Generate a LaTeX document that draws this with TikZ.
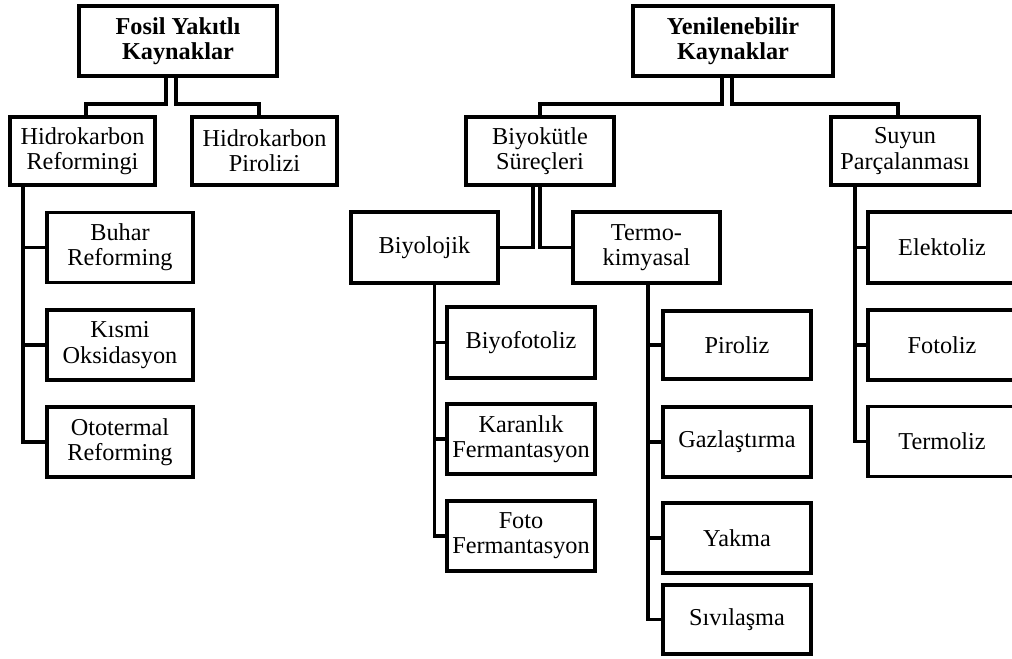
\documentclass[tikz,border=0pt]{standalone}
\usepackage{fontspec}
\setmainfont{Liberation Serif}
\begin{document}
\begin{tikzpicture}[x=0.75pt,y=-0.75pt,
  box/.style={draw=black,line width=2.8pt,fill=white,inner sep=0pt,align=center,
    font=\fontsize{18.2}{19}\selectfont,minimum width=#1*0.75pt},
  box/.default=148,
  hbox/.style={box=#1,minimum height=52.5pt},
  hbox/.default=148,
  tbox/.style={hbox=#1,font=\fontsize{18.2}{19}\selectfont\bfseries},
  conn/.style={line width=2.8pt,line join=miter}]
\clip (0,0) rectangle (1012,659);
% top level
\node[tbox=198] (fosil) at (178,41) {Fosil Yakıtlı\\Kaynaklar};
\node[tbox=200] (yen) at (733,41) {Yenilenebilir\\Kaynaklar};
% second level
\node[hbox=145,minimum height=51pt] (hr) at (82.5,151) {Hidrokarbon\\Reformingi};
\node[hbox=145,minimum height=51pt] (hp) at (264.5,151) {Hidrokarbon\\Pirolizi};
\node[hbox,minimum height=51pt] (bio) at (540,151) {Biyokütle\\Süreçleri};
\node[hbox,minimum height=51pt] (suy) at (905,151) {Suyun\\Parçalanması};
% fossil children
\node[hbox=146] (buhar) at (120,247.5) {Buhar\\Reforming};
\node[hbox=146] (kismi) at (120,345) {Kısmi\\Oksidasyon};
\node[hbox=146] (oto) at (120,442) {Ototermal\\Reforming};
% biomass
\node[hbox=147,minimum height=53pt] (biyol) at (424.5,247.5) {Biyolojik};
\node[hbox=147,minimum height=53pt] (termo) at (646.5,247.5) {Termo-\\kimyasal};
\node[hbox,minimum height=53pt] (biyofot) at (521,342.5) {Biyofotoliz};
\node[hbox] (karan) at (521,439) {Karanlık\\Fermantasyon};
\node[hbox] (foto) at (521,536) {Foto\\Fermantasyon};
\node[hbox,minimum height=51pt] (piroliz) at (737,345) {Piroliz};
\node[hbox] (gaz) at (737,442) {Gazlaştırma};
\node[hbox] (yakma) at (737,538) {Yakma};
\node[hbox,minimum height=51.75pt] (siv) at (737,619.5) {Sıvılaşma};
% water
\node[hbox,minimum height=53pt] (elek) at (942,247.5) {Elektoliz};
\node[hbox] (fotol) at (942,345) {Fotoliz};
\node[hbox] (termol) at (942,441.5) {Termoliz};
% connectors top
\draw[conn] ([xshift=-9pt]fosil.south) -- ++(0,26) -| ([xshift=2.6pt]hr.north);
\draw[conn] ([xshift=-1.5pt]fosil.south) -- ++(0,26) -| ([xshift=-4.1pt]hp.north);
\draw[conn] ([xshift=-8.25pt]yen.south) -- ++(0,26) -| (bio.north);
\draw[conn] ([xshift=-0.75pt]yen.south) -- ++(0,26) -| ([xshift=-5.25pt]suy.north);
% biomass split
\draw[conn] ([xshift=-5pt]bio.south) |- (biyol.east);
\draw[conn] (bio.south) |- (termo.west);
% fossil children
\draw[conn] ([xshift=11.25pt]hr.south west) |- (buhar.west);
\draw[conn] ([xshift=11.25pt]hr.south west) |- (kismi.west);
\draw[conn] ([xshift=11.25pt]hr.south west) |- (oto.west);
% biological children
\draw[conn] ([xshift=7.5pt]biyol.south) |- (biyofot.west);
\draw[conn] ([xshift=7.5pt]biyol.south) |- (karan.west);
\draw[conn] ([xshift=7.5pt]biyol.south) |- (foto.west);
% thermochemical children
\draw[conn] ([xshift=1pt]termo.south) |- (piroliz.west);
\draw[conn] ([xshift=1pt]termo.south) |- (gaz.west);
\draw[conn] ([xshift=1pt]termo.south) |- (yakma.west);
\draw[conn] ([xshift=1pt]termo.south) |- (siv.west);
% water children
\draw[conn] ([xshift=19.5pt]suy.south west) |- (elek.west);
\draw[conn] ([xshift=19.5pt]suy.south west) |- (fotol.west);
\draw[conn] ([xshift=19.5pt]suy.south west) |- (termol.west);
\end{tikzpicture}
\end{document}
